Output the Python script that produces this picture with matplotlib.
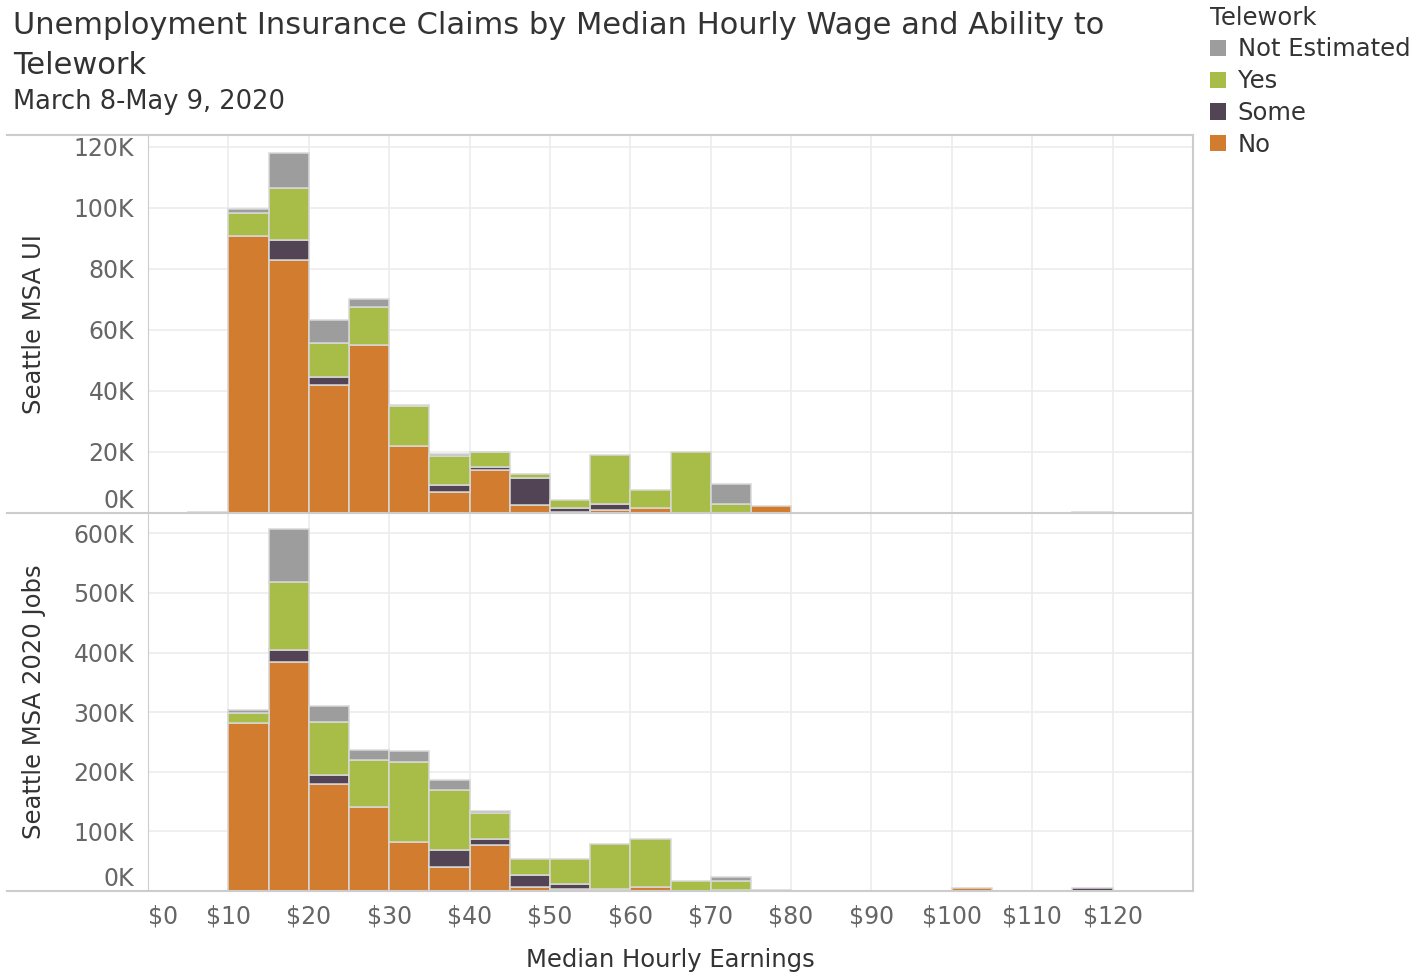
import numpy as np
import matplotlib.pyplot as plt
from matplotlib.patches import Patch
from matplotlib.lines import Line2D
from matplotlib.ticker import FuncFormatter

# bin start ($) of each 5-dollar wage bin
bins = [5, 10, 15, 20, 25, 30, 35, 40, 45, 50, 55, 60, 65, 70, 75, 100, 115]

# Seattle MSA UI claims, thousands
ui_no = [0, 90.7, 82.9, 42.1, 55.0, 21.9, 6.9, 14.2, 2.7, 0.3, 0.9, 1.8, 0, 0, 2.2, 0, 0]
ui_some = [0, 0, 6.7, 2.4, 0, 0, 2.4, 0.9, 8.8, 1.4, 2.2, 0, 0, 0, 0, 0, 0]
ui_yes = [0, 7.7, 16.8, 11.2, 12.5, 13.2, 9.4, 4.8, 1.4, 2.5, 15.9, 5.7, 20.0, 3.1, 0, 0, 0]
ui_ne = [0.4, 1.3, 11.6, 7.5, 2.6, 0.4, 0.5, 0.2, 0, 0, 0, 0, 0, 6.4, 0, 0, 0.4]

# Seattle MSA 2020 jobs, thousands
jobs_no = [0, 281, 384, 180, 140.5, 81.5, 41, 77.6, 6, 4, 3, 7.3, 0, 1, 0, 5, 0]
jobs_some = [0, 0, 20.7, 15, 0, 0, 28, 10.4, 20.5, 8, 0, 0, 0, 0, 0, 0, 5]
jobs_yes = [0, 17.5, 114, 88, 78.5, 135.5, 101, 42, 27, 42.5, 76, 80.7, 16.3, 15, 0, 0, 0]
jobs_ne = [0, 4.5, 89, 28, 18, 17, 17, 4, 0, 0, 0, 0, 0, 8, 2.5, 0, 0]

categories = ["No", "Some", "Yes", "Not Estimated"]
colors = {"Not Estimated": "#9d9d9d", "Yes": "#a8bc48", "Some": "#524454", "No": "#d27c2f"}

ui_ticks = [0, 20, 40, 60, 80, 100, 120]
jobs_ticks = [0, 100, 200, 300, 400, 500, 600]
x_ticks = list(range(0, 130, 10))

plt.rcParams["font.family"] = "DejaVu Sans"
fig = plt.figure(figsize=(14.2, 9.75), dpi=100)
W, H = 1420, 975

ax1 = fig.add_axes([148 / W, (H - 513) / H, (1193 - 148) / W, 378 / H])
ax2 = fig.add_axes([148 / W, (H - 891) / H, (1193 - 148) / W, 378 / H])


def draw(ax, series, ticks, ymax, ylabel):
    x = np.array(bins, dtype=float)
    bottom = np.zeros(len(bins))
    for name, vals in zip(categories, series):
        v = np.array(vals, dtype=float)
        m = v > 0
        ax.bar(x[m], v[m], width=5, align="edge", bottom=bottom[m],
               color=colors[name], edgecolor="#d8d8d8", linewidth=1.1, zorder=3)
        bottom += v
    ax.set_xlim(0, 130)
    ax.set_ylim(0, ymax)
    ax.set_yticks(ticks)
    ax.yaxis.set_major_formatter(FuncFormatter(lambda v, p: f"{int(v)}K"))
    ax.set_xticks(x_ticks)
    ax.grid(True, color="#ececec", linewidth=1.2, zorder=0)
    ax.set_axisbelow(True)
    for s in ["top", "right", "bottom"]:
        ax.spines[s].set_visible(False)
    ax.spines["left"].set_color("#cccccc")
    ax.tick_params(axis="both", length=0, labelsize=17, labelcolor="#666666", pad=10)
    ax.set_ylabel(ylabel, fontsize=17.5, color="#333333")
    ax.yaxis.set_label_coords(-0.098, 0.5)
    ax.get_yticklabels()[0].set_va("bottom")


draw(ax1, [ui_no, ui_some, ui_yes, ui_ne], ui_ticks, 123.9, "Seattle MSA UI")
draw(ax2, [jobs_no, jobs_some, jobs_yes, jobs_ne], jobs_ticks, 634, "Seattle MSA 2020 Jobs")

ax1.tick_params(axis="x", labelbottom=False)
ax2.set_xticklabels([f"${t}" for t in x_ticks])
ax2.get_xticklabels()[0].set_ha("left")
ax2.set_xlabel("Median Hourly Earnings", fontsize=17.5, color="#333333", labelpad=14)

# outer frame lines
for yy in [135, 513, 891]:
    fig.add_artist(Line2D([7 / W, 1193 / W], [1 - yy / H, 1 - yy / H], color="#cccccc", linewidth=1.5))
fig.add_artist(Line2D([1193 / W, 1193 / W], [1 - 135 / H, 1 - 891 / H], color="#cccccc", linewidth=1.5))

fig.text(13 / W, 1 - 25 / H, "Unemployment Insurance Claims by Median Hourly Wage and Ability to",
         fontsize=22, color="#333333", va="center", ha="left")
fig.text(13 / W, 1 - 65 / H, "Telework", fontsize=22, color="#333333", va="center", ha="left")
fig.text(13 / W, 1 - 102 / H, "March 8-May 9, 2020", fontsize=18.5, color="#333333", va="center", ha="left")

handles = [Patch(facecolor=colors[c], edgecolor="none") for c in ["Not Estimated", "Yes", "Some", "No"]]
leg = fig.legend(handles, ["Not Estimated", "Yes", "Some", "No"], title="Telework",
                 loc="upper left", bbox_to_anchor=(1200 / W, 1 + 4 / H), frameon=False,
                 fontsize=17.5, title_fontsize=17.5, handlelength=0.65, handleheight=0.65,
                 handletextpad=0.5, labelspacing=0.32, borderaxespad=0, alignment="left")
for t in leg.get_texts():
    t.set_color("#333333")
leg.get_title().set_color("#333333")

fig.savefig("out.png", dpi=100)
